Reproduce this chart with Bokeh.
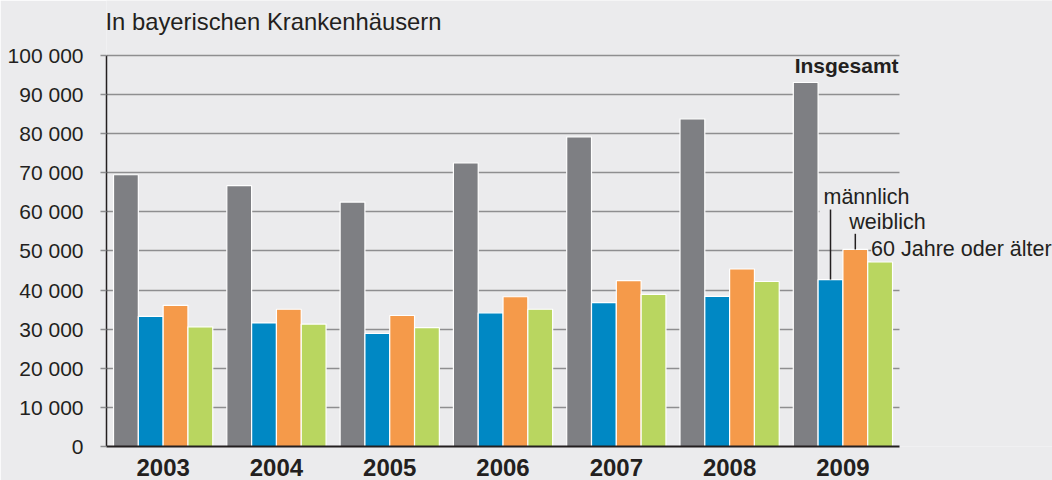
from bokeh.plotting import figure
from bokeh.models import ColumnDataSource, Range1d, FixedTicker, Label
from bokeh.transform import dodge
from bokeh.embed import file_html
from bokeh.resources import INLINE

# ---- data ----
years = ["2003", "2004", "2005", "2006", "2007", "2008", "2009"]
insgesamt = [69500, 66700, 62500, 72500, 79200, 83800, 93100]
maennlich = [33300, 31600, 28900, 34200, 36800, 38400, 42700]
weiblich = [36100, 35100, 33500, 38300, 42400, 45400, 50400]
aelter = [30600, 31300, 30400, 35100, 38900, 42200, 47200]
series_names = ["Insgesamt", "männlich", "weiblich", "60 Jahre oder älter"]
y_ticks = [0, 10000, 20000, 30000, 40000, 50000, 60000, 70000, 80000, 90000, 100000]
y_tick_labels = ["0", "10 000", "20 000", "30 000", "40 000", "50 000",
                 "60 000", "70 000", "80 000", "90 000", "100 000"]
title_text = "In bayerischen Krankenhäusern"

# ---- style / layout ----
BG = "#ebebed"
DARK = "#231f20"
GRID = "#8e8e90"
COLORS = ["#7e7f83", "#0088c4", "#f59a4a", "#b9d660"]
FONT = "Liberation Sans"
W = 0.219                       # bar width as a fraction of one year slot
OFFSETS = [-1.5 * W, -0.5 * W, 0.5 * W, 1.5 * W]
X_END = 8.35                    # room on the right for the series labels
Y_MAX = 100000                  # top of the value axis
Y_END = 114066                  # room above the axis for the heading
LEADER_TOP = {"männlich": 60600, "weiblich": 54400}
LABEL_Y = {"title": 108800, "Insgesamt": 97400, "männlich": 63700,
           "weiblich": 57400, "60 Jahre oder älter": 50400}

n = len(years)
centers = [i + 0.5 for i in range(n)]
src = ColumnDataSource(dict(xc=centers, year=years, insgesamt=insgesamt,
                            maennlich=maennlich, weiblich=weiblich, aelter=aelter))

p = figure(width=1052, height=480,
           x_range=Range1d(0, X_END), y_range=Range1d(0, Y_END),
           output_backend="svg", toolbar_location=None,
           min_border_left=106, min_border_right=0, min_border_top=0, min_border_bottom=34)

p.background_fill_color = BG
p.border_fill_color = BG
p.outline_line_color = None

p.xgrid.grid_line_color = None
p.ygrid.grid_line_color = GRID
p.ygrid.grid_line_width = 1.5
p.ygrid.ticker = FixedTicker(ticks=y_ticks)
p.ygrid.cross_bounds = (0, n)

ya = p.yaxis[0]
ya.ticker = FixedTicker(ticks=y_ticks)
ya.bounds = (0, Y_MAX)
ya.major_label_overrides = {t: l for t, l in zip(y_ticks, y_tick_labels)}
ya.axis_line_color = DARK
ya.axis_line_width = 1.5
ya.major_tick_out = 6
ya.major_tick_in = 0
ya.major_tick_line_color = GRID
ya.major_tick_line_width = 1.5
ya.minor_tick_line_color = None
ya.major_label_standoff = 17
ya.major_label_text_font = FONT
ya.major_label_text_font_size = "21px"
ya.major_label_text_color = DARK

xa = p.xaxis[0]
xa.ticker = FixedTicker(ticks=centers)
xa.major_label_overrides = {c: y for c, y in zip(centers, years)}
xa.bounds = (0, n)
xa.axis_line_color = DARK
xa.axis_line_width = 2
xa.major_tick_line_color = None
xa.minor_tick_line_color = None
xa.major_tick_out = 0
xa.major_tick_in = 0
xa.major_label_standoff = 12
xa.major_label_text_font = FONT
xa.major_label_text_font_size = "24px"
xa.major_label_text_font_style = "bold"
xa.major_label_text_color = DARK

fields = ["insgesamt", "maennlich", "weiblich", "aelter"]
for f, off, c in zip(fields, OFFSETS, COLORS):
    p.vbar(x=dodge("xc", off), top=f, bottom=0, width=W,
           source=src, fill_color=c, line_color="white", line_width=1.2)

i9 = years.index("2009")
def xs(k):
    return centers[i9] + OFFSETS[k]

# leader lines
p.segment(x0=[xs(1), xs(2)], y0=[maennlich[i9], weiblich[i9]],
          x1=[xs(1), xs(2)], y1=[LEADER_TOP["männlich"], LEADER_TOP["weiblich"]],
          line_color=DARK, line_width=1.5, level="overlay")

# heading
p.add_layout(Label(x=0, y=LABEL_Y["title"], x_offset=-1, text=title_text,
                   text_font=FONT, text_font_size="23.8px", text_color=DARK,
                   text_align="left", text_baseline="middle"))

lab_kw = dict(text_font=FONT, text_font_size="21.5px", text_color=DARK,
              text_baseline="middle", text_align="left",
              background_fill_color=BG)

p.add_layout(Label(x=n, y=LABEL_Y["Insgesamt"], x_offset=-1,
                   text=series_names[0], text_font=FONT, text_font_size="21px",
                   text_font_style="bold", text_color=DARK,
                   text_align="right", text_baseline="middle"))
p.add_layout(Label(x=xs(1), y=LABEL_Y["männlich"], x_offset=-11, padding=4,
                   text=series_names[1], **lab_kw))
p.add_layout(Label(x=xs(2), y=LABEL_Y["weiblich"], x_offset=-6, padding=0,
                   text=series_names[2], **lab_kw))
p.add_layout(Label(x=xs(3), y=LABEL_Y["60 Jahre oder älter"], x_offset=-9, padding=0,
                   text=series_names[3], **lab_kw))

open("out.html", "w").write(file_html(p, INLINE))
